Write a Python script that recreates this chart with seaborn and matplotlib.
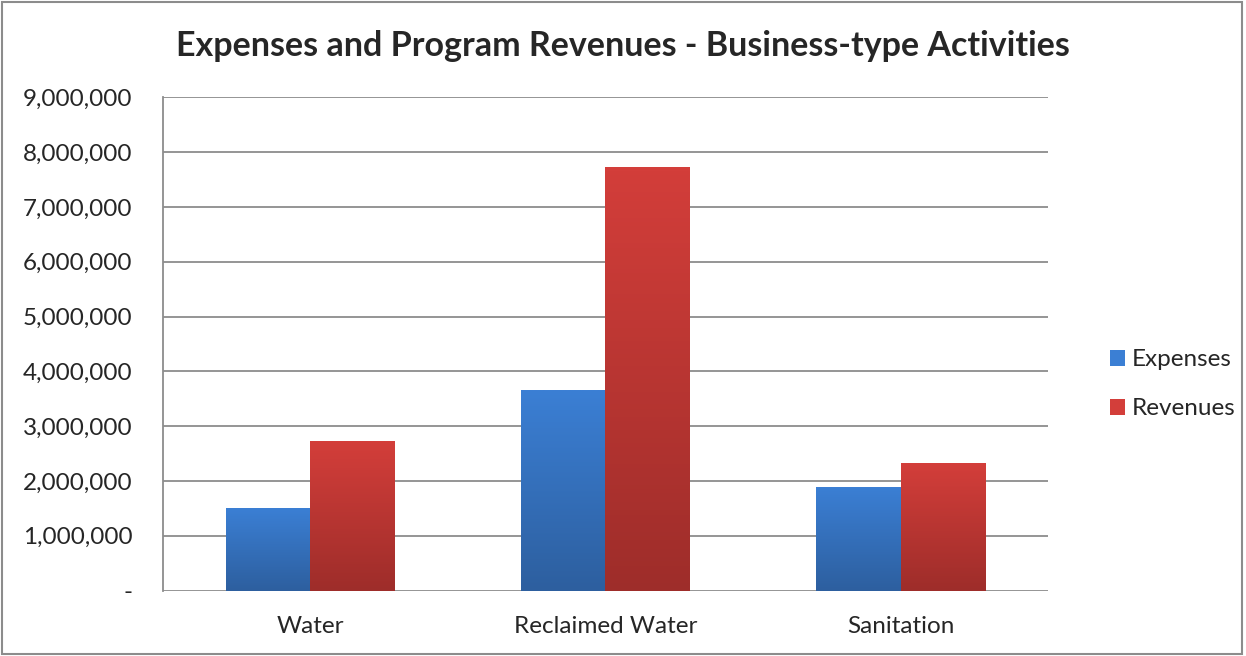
import numpy as np
import pandas as pd
import matplotlib
matplotlib.use("Agg")
import matplotlib.pyplot as plt
import matplotlib.ticker as mticker
from matplotlib.colors import LinearSegmentedColormap
from matplotlib.patches import Rectangle, Patch
import seaborn as sns

categories = ["Water", "Reclaimed Water", "Sanitation"]
series = ["Expenses", "Revenues"]
expenses = [1500000, 3660000, 1890000]
revenues = [2730000, 7720000, 2330000]

df = pd.DataFrame({
    "category": categories * 2,
    "series": ["Expenses"] * 3 + ["Revenues"] * 3,
    "value": expenses + revenues,
})

palette = {"Expenses": "#3775c6", "Revenues": "#c63a36"}
grads = {
    "Expenses": ("#3b7fd4", "#2d5f9f"),
    "Revenues": ("#d33e3a", "#9e2d2a"),
}

sns.set_style("white")
plt.rcParams["font.family"] = ["Lato", "DejaVu Sans"]

fig = plt.figure(figsize=(12.46, 6.56), dpi=100)
ax = fig.add_axes([0.1308, 0.0998, 0.7103, 0.7519])

sns.barplot(data=df, x="category", y="value", hue="series", palette=palette,
            width=0.574, saturation=1, ax=ax, legend=False, zorder=3)

# gradient fill on each bar
for container, name in zip(ax.containers, series):
    cmap = LinearSegmentedColormap.from_list(name, [grads[name][1], grads[name][0]])
    for bar in container:
        x0, y0 = bar.get_x(), bar.get_y()
        w, h = bar.get_width(), bar.get_height()
        img = ax.imshow(np.linspace(0, 1, 100).reshape(-1, 1), cmap=cmap,
                        extent=[x0, x0 + w, y0, y0 + h], origin="lower",
                        aspect="auto", zorder=4)
        img.set_clip_path(bar)
        bar.set_edgecolor("none")

ax.set_xlim(-0.5, 2.5)
ax.set_ylim(0, 9000000)
ax.yaxis.set_major_locator(mticker.MultipleLocator(1000000))
ax.yaxis.set_major_formatter(mticker.FuncFormatter(
    lambda v, p: "-" if v == 0 else f"{int(v):,}"))
ax.grid(axis="y", color="#8c8c8c", linewidth=1.3, zorder=0)
ax.set_axisbelow(True)
for s in ["top", "right", "bottom"]:
    ax.spines[s].set_visible(False)
ax.spines["left"].set_color("#8c8c8c")
ax.spines["left"].set_linewidth(1.3)
ax.tick_params(axis="y", labelsize=17.5, length=0, pad=22)
ax.tick_params(axis="x", labelsize=17.5, length=0, pad=18)
ax.set_xlabel("")
ax.set_ylabel("")

fig.text(0.5, 0.93, "Expenses and Program Revenues - Business-type Activities",
         ha="center", va="center", fontsize=24.5, fontweight="bold")

handles = [Patch(facecolor=grads[s][0], edgecolor="none") for s in series]
fig.legend(handles, series, loc="center left", bbox_to_anchor=(0.8905, 0.414),
           frameon=False, fontsize=17.5, handlelength=0.65, handleheight=0.65,
           handletextpad=0.25, labelspacing=1.15, borderpad=0, borderaxespad=0)

fig.patches.append(Rectangle((0.002, 0.003), 0.995, 0.994, transform=fig.transFigure,
                             fill=False, edgecolor="#8c8c8c", linewidth=1.5))

fig.savefig("out.png", dpi=100)
